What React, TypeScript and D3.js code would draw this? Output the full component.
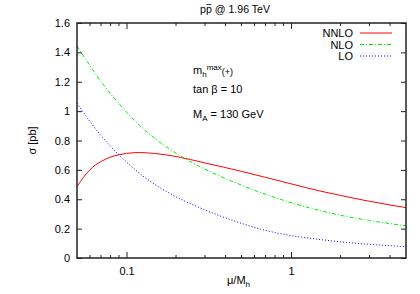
import React, {useEffect, useRef} from 'react';
import * as d3 from 'd3';

// mu/M_h sample points
const muValues = [0.05, 0.06, 0.07, 0.08, 0.09, 0.1, 0.12, 0.15, 0.2, 0.3, 0.5, 0.7, 1, 1.5, 2, 3, 4, 5];

// sigma [pb]
const nnlo = [0.487, 0.602, 0.657, 0.687, 0.703, 0.712, 0.718, 0.711, 0.691, 0.647, 0.590, 0.549, 0.505, 0.456, 0.426, 0.386, 0.361, 0.343];
const nlo = [1.443, 1.309, 1.202, 1.118, 1.051, 0.993, 0.903, 0.811, 0.713, 0.605, 0.496, 0.434, 0.377, 0.323, 0.291, 0.255, 0.234, 0.220];
const lo = [1.055, 0.929, 0.833, 0.760, 0.701, 0.653, 0.576, 0.498, 0.417, 0.327, 0.236, 0.188, 0.153, 0.126, 0.110, 0.093, 0.084, 0.077];

const yTicks = [0, 0.2, 0.4, 0.6, 0.8, 1, 1.2, 1.4, 1.6];
const xTicks = [0.1, 1];
const xMinorTicks = [0.06, 0.07, 0.08, 0.09, 0.2, 0.3, 0.4, 0.5, 0.6, 0.7, 0.8, 0.9, 2, 3, 4];

const series = [
    {name: 'NNLO', values: nnlo, color: '#ff0000', dash: null},
    {name: 'NLO', values: nlo, color: '#00ee00', dash: '4,2,1,2'},
    {name: 'LO', values: lo, color: '#0000ff', dash: '1,2'}
];

const width = 420;
const height = 294;
const margin = {left: 77, right: 14, top: 23, bottom: 36};
const font = '"Liberation Sans", Arial, sans-serif';

export default function App() {
    const chartArea = useRef<SVGGElement>(null);
    const xAxis = useRef<SVGGElement>(null);
    const xAxisTop = useRef<SVGGElement>(null);
    const yAxis = useRef<SVGGElement>(null);
    const yAxisRight = useRef<SVGGElement>(null);
    const title = useRef<SVGTextElement>(null);
    const svgRef = useRef<SVGSVGElement>(null);

    const drawWidth = width - margin.left - margin.right;
    const drawHeight = height - margin.top - margin.bottom;

    const xScale = d3.scaleLog().domain([0.05, 5]).range([0, drawWidth]);
    const yScale = d3.scaleLinear().domain([0, 1.6]).range([drawHeight, 0]);

    useEffect(() => {
        const line = d3.line<number>()
            .x((d, i) => xScale(muValues[i]))
            .y((d) => yScale(d))
            .curve(d3.curveMonotoneX);

        const paths = d3.select(chartArea.current)
            .selectAll('path')
            .data(series);

        paths.enter().append('path')
            .merge(paths as any)
            .attr('fill', 'none')
            .attr('stroke', (d) => d.color)
            .attr('stroke-width', 1)
            .attr('stroke-dasharray', (d) => d.dash)
            .attr('d', (d) => line(d.values));

        const styleAxis = (sel: any) => {
            sel.select('.domain').remove();
            sel.selectAll('line').attr('stroke', '#222');
            sel.selectAll('text')
                .attr('font-family', font)
                .attr('font-size', 11)
                .attr('fill', '#000');
        };

        d3.select(xAxis.current)
            .call(d3.axisBottom(xScale).tickValues(xTicks).tickFormat(d3.format('')).tickSize(-6).tickPadding(9))
            .call(styleAxis);
        d3.select(xAxisTop.current)
            .call(d3.axisTop(xScale).tickValues(xTicks).tickFormat(() => '').tickSize(-6))
            .call(styleAxis);
        d3.select(yAxis.current)
            .call(d3.axisLeft(yScale).tickValues(yTicks).tickFormat(d3.format('')).tickSize(-5).tickPadding(7))
            .call(styleAxis);
        d3.select(yAxisRight.current)
            .call(d3.axisRight(yScale).tickValues(yTicks).tickFormat(() => '').tickSize(-5))
            .call(styleAxis);

        // minor ticks, both bottom and top
        const minor = d3.select(chartArea.current).append('g');
        minor.selectAll('line.bottom')
            .data(xMinorTicks)
            .enter().append('line')
            .attr('x1', (d) => xScale(d)).attr('x2', (d) => xScale(d))
            .attr('y1', drawHeight).attr('y2', drawHeight - 3)
            .attr('stroke', '#222');
        minor.selectAll('line.top')
            .data(xMinorTicks)
            .enter().append('line')
            .attr('x1', (d) => xScale(d)).attr('x2', (d) => xScale(d))
            .attr('y1', 0).attr('y2', 3)
            .attr('stroke', '#222');

        // bar over the antiproton p
        const ext = title.current!.getExtentOfChar(1);
        const bar = d3.select(svgRef.current).append('line')
            .attr('x1', ext.x + 0.5).attr('x2', ext.x + ext.width - 0.5)
            .attr('y1', 4.5).attr('y2', 4.5)
            .attr('stroke', '#000').attr('stroke-width', 0.8);

        return () => { minor.remove(); bar.remove(); };
    }, []);

    const legendX = margin.left + drawWidth - 53;
    const annX = 193;

    return (
        <svg ref={svgRef} width={width} height={height} style={{position: 'absolute', left: 0, top: 0}}
            fontFamily={font} fontSize={11}>
            <rect width={width} height={height} fill="#fff" />

            {/* title */}
            <text ref={title} x={200} y={13} fontSize={10.6}>pp @ 1.96 TeV</text>

            <g ref={chartArea} transform={`translate(${margin.left}, ${margin.top})`} />

            {/* Axes */}
            <g ref={xAxis} transform={`translate(${margin.left}, ${margin.top + drawHeight})`} />
            <g ref={xAxisTop} transform={`translate(${margin.left}, ${margin.top})`} />
            <g ref={yAxis} transform={`translate(${margin.left}, ${margin.top})`} />
            <g ref={yAxisRight} transform={`translate(${margin.left + drawWidth}, ${margin.top})`} />

            <rect x={margin.left} y={margin.top} width={drawWidth} height={drawHeight}
                fill="none" stroke="#222" strokeWidth={1.5} />

            {/* axis labels */}
            <text x={227} y={284}>
                μ/M<tspan fontSize={8} dy={3}>h</tspan>
            </text>
            <text transform={`translate(36, ${margin.top + drawHeight / 2}) rotate(-90)`} textAnchor="middle">σ [pb]</text>

            {/* legend */}
            {series.map((s, i) => (
                <g key={s.name} transform={`translate(0, ${33 + i * 11.5})`}>
                    <text x={legendX} y={4} textAnchor="end">{s.name}</text>
                    <line x1={legendX + 7} x2={legendX + 39} y1={0} y2={0}
                        stroke={s.color} strokeWidth={1} strokeDasharray={s.dash ?? undefined} />
                </g>
            ))}

            {/* annotations */}
            <text x={annX} y={73.5}>
                m<tspan fontSize={8} dy={3}>h</tspan><tspan fontSize={8} dy={-7}>max</tspan><tspan fontSize={9} dy={5}>(+)</tspan>
            </text>
            <text x={annX} y={93}>tan β = 10</text>
            <text x={annX} y={118}>M<tspan fontSize={8} dy={3}>A</tspan><tspan dy={-3}> = 130 GeV</tspan></text>
        </svg>
    );
}
